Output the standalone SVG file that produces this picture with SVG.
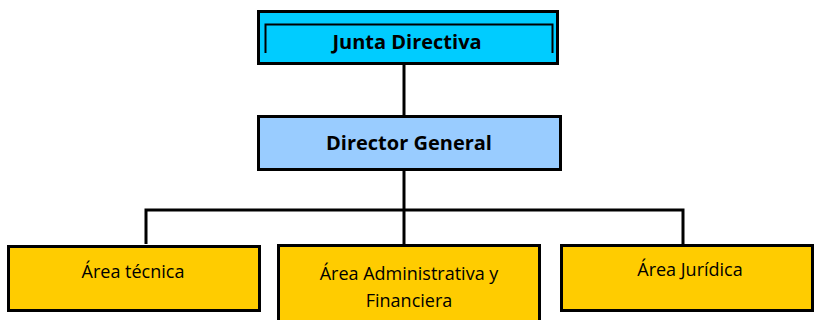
<svg xmlns="http://www.w3.org/2000/svg" width="814" height="320" viewBox="0 0 814 320">
<style>
.box{stroke:#000;stroke-width:3}
.lbl{font-family:"Open Sans","Liberation Sans",sans-serif;font-size:18px;fill:#000;text-anchor:middle}
.b{font-weight:bold;font-size:20px}
.con{stroke:#000;stroke-width:3;fill:none}
</style>
<rect width="814" height="320" fill="#fff"/>
<g id="connectors">
<line class="con" x1="404" y1="64" x2="404" y2="115"/>
<line class="con" x1="404" y1="171" x2="404" y2="244"/>
<polyline class="con" points="146,244 146,210 683,210 683,244"/>
</g>
<g id="junta">
<rect class="box" x="258.5" y="11.5" width="299" height="52" fill="#00ccff"/>
<polyline points="265.5,53 265.5,24.5 552.5,24.5 552.5,53" fill="none" stroke="#000" stroke-width="2"/>
<text class="lbl b" x="407" y="49">Junta Directiva</text>
</g>
<g id="director">
<rect class="box" x="258.5" y="116.5" width="302" height="53" fill="#99ccff"/>
<text class="lbl b" x="409" y="150">Director General</text>
</g>
<g id="tecnica">
<rect class="box" x="8.5" y="246.5" width="251" height="64" fill="#ffcc00"/>
<text class="lbl" x="133" y="278">Área técnica</text>
</g>
<g id="administrativa">
<rect class="box" x="278.5" y="245.5" width="261" height="80" fill="#ffcc00"/>
<text class="lbl" x="409" y="280">Área Administrativa y</text>
<text class="lbl" x="409" y="307">Financiera</text>
</g>
<g id="juridica">
<rect class="box" x="561.5" y="245.5" width="251" height="65" fill="#ffcc00"/>
<text class="lbl" x="690" y="276">Área Jurídica</text>
</g>
</svg>
